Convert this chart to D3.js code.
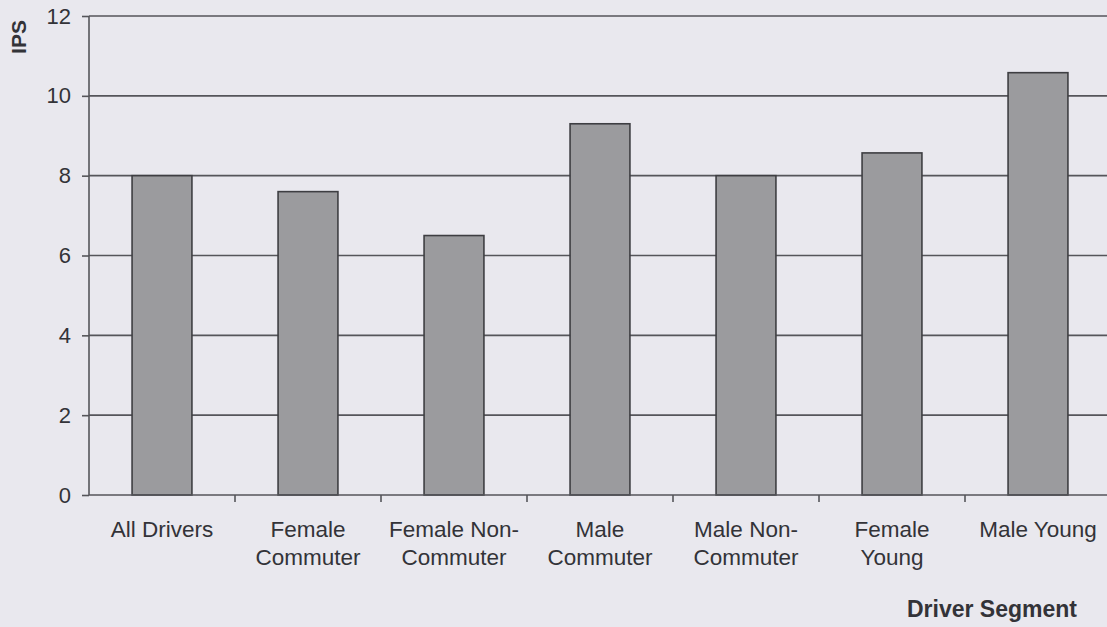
<!DOCTYPE html>
<html>
<head>
<meta charset="utf-8">
<script src="https://cdn.jsdelivr.net/npm/d3@7"></script>
<style>
  html, body { margin: 0; padding: 0; background: #e9e8ee; }
  svg { display: block; }
</style>
</head>
<body>
<script>
const categories = [["All Drivers"], ["Female", "Commuter"], ["Female Non-", "Commuter"], ["Male", "Commuter"], ["Male Non-", "Commuter"], ["Female", "Young"], ["Male Young"]];
const values = [8.0, 7.6, 6.5, 9.3, 8.0, 8.57, 10.58];
const yTicks = [0, 2, 4, 6, 8, 10, 12];
const yTitle = "IPS";
const xTitle = "Driver Segment";

const W = 1107, H = 627;
const m = { left: 89, right: -4, top: 16, bottom: 132 };
const svg = d3.select("body").append("svg").attr("width", W).attr("height", H);
svg.append("rect").attr("width", W).attr("height", H).attr("fill", "#e9e8ee");

const keys = categories.map((c, i) => i);
const x = d3.scaleBand().domain(keys).range([m.left, W - m.right]).paddingInner(0.59).paddingOuter(0.295);
const xb = d3.scaleBand().domain(keys).range([m.left, W - m.right]);
const y = d3.scaleLinear().domain([0, 12]).range([H - m.bottom, m.top]);

const font = "Liberation Sans, Arial, sans-serif";
const ink = "#333338";

// gridlines
svg.append("g").selectAll("line").data(yTicks.filter(d => d > 0)).join("line")
  .attr("x1", m.left).attr("x2", W - m.right)
  .attr("y1", d => y(d)).attr("y2", d => y(d))
  .attr("stroke", "#55555a").attr("stroke-width", 1.6);

// bars
svg.append("g").selectAll("rect").data(values).join("rect")
  .attr("x", (d, i) => x(i)).attr("width", x.bandwidth())
  .attr("y", d => y(d)).attr("height", d => y(0) - y(d))
  .attr("fill", "#9b9b9e").attr("stroke", "#3e3e42").attr("stroke-width", 1.6);

// y axis
const yAxis = svg.append("g").attr("transform", `translate(${m.left},0)`)
  .call(d3.axisLeft(y).tickValues(yTicks).tickSize(7).tickPadding(11).tickFormat(d3.format("d")));
yAxis.select(".domain").attr("stroke", "#55555a").attr("stroke-width", 1.6).attr("d", `M0,${y(12)}V${y(0)}`);
yAxis.selectAll(".tick line").attr("stroke", "#55555a").attr("stroke-width", 1.6);
yAxis.selectAll(".tick text").attr("font-family", font).attr("font-size", 22).attr("fill", ink);

// x axis
const xAxis = svg.append("g").attr("transform", `translate(0,${y(0)})`);
xAxis.append("line").attr("x1", m.left).attr("x2", W - m.right).attr("y1", 0).attr("y2", 0)
  .attr("stroke", "#55555a").attr("stroke-width", 1.6);
xAxis.selectAll("line.tk").data(keys.slice(1)).join("line").attr("class", "tk")
  .attr("x1", d => xb(d)).attr("x2", d => xb(d)).attr("y1", 0).attr("y2", 7)
  .attr("stroke", "#55555a").attr("stroke-width", 1.6);
const lbl = xAxis.selectAll("text.lb").data(categories).join("text").attr("class", "lb")
  .attr("text-anchor", "middle").attr("font-family", font).attr("font-size", 22.5).attr("fill", ink)
  .attr("transform", (d, i) => `translate(${xb(i) + xb.bandwidth() / 2},42)`);
lbl.selectAll("tspan").data(d => d).join("tspan")
  .attr("x", 0).attr("dy", (d, j) => j === 0 ? 0 : 28).text(d => d);

// titles
svg.append("text").attr("transform", `translate(26,37) rotate(-90)`)
  .attr("text-anchor", "middle").attr("font-family", font).attr("font-weight", "bold")
  .attr("font-size", 21).attr("fill", ink).text(yTitle);
svg.append("text").attr("x", 1077).attr("y", 617).attr("text-anchor", "end")
  .attr("font-family", font).attr("font-weight", "bold").attr("font-size", 23).attr("fill", ink).text(xTitle);
</script>
</body>
</html>
